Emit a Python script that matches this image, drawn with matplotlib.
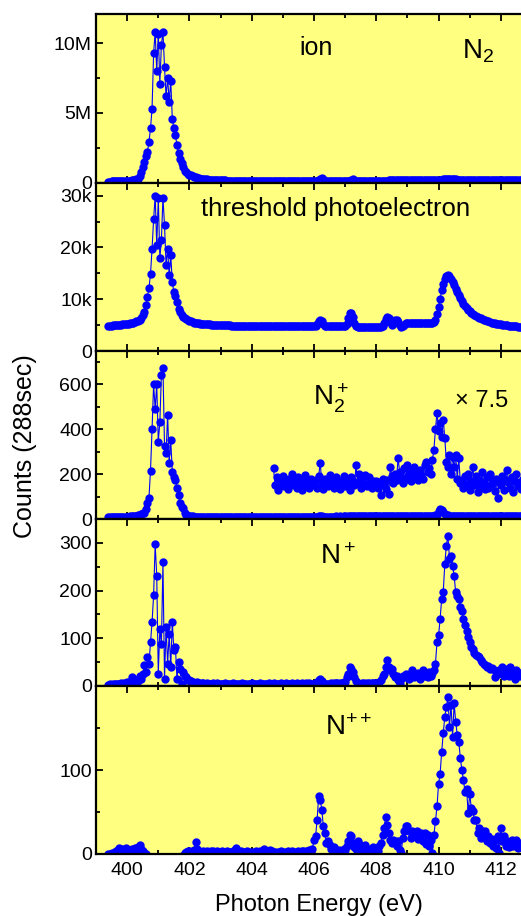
import numpy as np
import matplotlib
matplotlib.use('Agg')
import matplotlib.pyplot as plt
from matplotlib.ticker import MultipleLocator

plt.rcParams['font.family'] = ['Liberation Sans', 'DejaVu Sans']
plt.rcParams['mathtext.fontset'] = 'custom'
plt.rcParams['mathtext.rm'] = 'Liberation Sans'
plt.rcParams['mathtext.it'] = 'Liberation Sans:italic'
plt.rcParams['mathtext.bf'] = 'Liberation Sans:bold'

# photon energy grid (eV), 0.05 eV steps, 399.40 .. 412.70
energy = np.round(np.arange(399.40, 412.701, 0.05), 2)

# ion yield (millions of counts)
ion = [
    0.08, 0.08, 0.09, 0.09, 0.09, 0.10, 0.10, 0.10, 0.11, 0.11, 0.12, 0.12,
    0.13, 0.14, 0.15, 0.16, 0.18, 0.20, 0.24, 0.30, 0.45, 0.80, 1.1, 1.5, 1.9, 2.2, 2.9, 3.9, 5.3, 9.3, 10.8, 8.0,
    10.7, 7.1, 9.9, 10.8, 8.3, 6.2, 7.5, 5.8, 7.3, 4.6, 3.9, 3.4, 2.7, 2.1, 1.7, 1.4, 1.1, 0.85, 0.75, 0.65,
    0.58, 0.52, 0.47, 0.42, 0.38, 0.34, 0.31, 0.29, 0.27, 0.25, 0.24, 0.23, 0.22, 0.21, 0.20, 0.19, 0.19, 0.18, 0.18, 0.17,
    0.17, 0.16, 0.16, 0.16, 0.15, 0.15, 0.15, 0.15, 0.14, 0.14, 0.14, 0.14, 0.14, 0.14, 0.14, 0.13, 0.13, 0.13, 0.13, 0.13,
    0.13, 0.13, 0.13, 0.13, 0.13, 0.13, 0.13, 0.12, 0.12, 0.12, 0.12, 0.12, 0.12, 0.12, 0.12, 0.12, 0.12, 0.12, 0.12, 0.12,
    0.12, 0.12, 0.12, 0.12, 0.12, 0.12, 0.12, 0.12, 0.12, 0.12, 0.12, 0.12, 0.12, 0.12, 0.12, 0.12, 0.12, 0.12, 0.12, 0.12,
    0.12, 0.12, 0.13, 0.18, 0.30, 0.35, 0.25, 0.15, 0.13, 0.12, 0.12, 0.12, 0.13, 0.13, 0.13, 0.13, 0.13, 0.13, 0.13, 0.13,
    0.13, 0.13, 0.14, 0.15, 0.20, 0.24, 0.18, 0.14, 0.13, 0.13, 0.13, 0.14, 0.14, 0.14, 0.14, 0.14, 0.14, 0.14, 0.14, 0.14,
    0.14, 0.14, 0.14, 0.14, 0.15, 0.15, 0.15, 0.15, 0.16, 0.18, 0.22, 0.17, 0.16, 0.18, 0.17, 0.16, 0.16, 0.16, 0.16, 0.16,
    0.16, 0.16, 0.17, 0.17, 0.17, 0.17, 0.17, 0.17, 0.18, 0.18, 0.18, 0.18, 0.18, 0.18, 0.18, 0.18, 0.19, 0.19, 0.19, 0.19,
    0.20, 0.21, 0.22, 0.23, 0.24, 0.25, 0.25, 0.24, 0.24, 0.23, 0.23, 0.23, 0.22, 0.22, 0.22, 0.22, 0.22, 0.22, 0.22, 0.22,
    0.22, 0.22, 0.22, 0.22, 0.22, 0.22, 0.22, 0.22, 0.22, 0.22, 0.22, 0.22, 0.22, 0.22, 0.22, 0.22, 0.22, 0.22, 0.22, 0.22,
    0.22, 0.22, 0.22, 0.22, 0.22, 0.22, 0.22, 0.22, 0.22, 0.22, 0.22, 0.22, 0.22, 0.22, 0.22,
]

# threshold photoelectron (thousands of counts)
tpe = [
    4.8, 4.9, 4.9, 5.0, 5.0, 5.0, 5.1, 5.1, 5.1, 5.2, 5.2, 5.2,
    5.3, 5.3, 5.4, 5.4, 5.5, 5.6, 5.7, 5.8, 6.0, 6.4, 6.9, 7.6, 8.9, 10.5, 12.1, 14.9, 19.7, 25.4, 30.0, 20.4,
    29.5, 17.9, 21.5, 29.6, 24.3, 16.7, 19.7, 14.7, 18.5, 13.4, 11.4, 10.6, 9.5, 8.2, 7.6, 7.0, 6.6, 6.3, 6.1, 5.9,
    5.8, 5.7, 5.6, 5.5, 5.5, 5.4, 5.4, 5.3, 5.3, 5.3, 5.2, 5.2, 5.2, 5.2, 5.1, 5.1, 5.1, 5.1, 5.0, 5.0,
    5.0, 5.0, 5.0, 5.0, 5.0, 5.0, 5.0, 4.9, 4.9, 4.9, 4.9, 4.9, 4.9, 4.9, 4.9, 4.9, 4.9, 4.9, 4.9, 4.9,
    4.9, 4.9, 4.9, 4.9, 4.9, 4.9, 4.9, 4.9, 4.9, 4.9, 4.9, 4.9, 4.8, 4.8, 4.8, 4.8, 4.8, 4.8, 4.8, 4.8,
    4.8, 4.8, 4.8, 4.8, 4.8, 4.8, 4.8, 4.8, 4.8, 4.8, 4.8, 4.8, 4.8, 4.8, 4.8, 4.8, 4.8, 4.8, 4.8, 4.8,
    4.8, 4.9, 5.2, 5.7, 6.0, 5.8, 5.2, 4.9, 4.8, 4.8, 4.8, 4.8, 4.8, 4.8, 4.8, 4.8, 4.8, 4.8, 4.8, 4.8,
    4.8, 5.2, 6.3, 7.3, 7.4, 6.6, 5.4, 4.9, 4.7, 4.7, 4.7, 4.7, 4.6, 4.6, 4.6, 4.6, 4.6, 4.6, 4.6, 4.6,
    4.6, 4.6, 4.6, 4.7, 4.9, 5.4, 6.1, 6.5, 6.3, 5.6, 5.1, 5.3, 5.9, 6.0, 5.6, 5.0, 4.7, 4.8, 5.1, 5.4,
    5.5, 5.5, 5.5, 5.5, 5.5, 5.5, 5.5, 5.5, 5.5, 5.5, 5.5, 5.5, 5.5, 5.5, 5.5, 5.5, 5.5, 5.6, 6.0, 7.2,
    8.5, 10.0, 11.8, 13.0, 14.0, 14.5, 14.7, 14.4, 13.9, 13.4, 12.7, 12.0, 11.3, 10.8, 10.2, 9.6, 9.1, 8.6, 8.3, 8.0,
    7.7, 7.4, 7.2, 7.0, 6.8, 6.6, 6.4, 6.3, 6.1, 6.0, 5.9, 5.8, 5.7, 5.6, 5.5, 5.4, 5.4, 5.3, 5.3, 5.2,
    5.2, 5.1, 5.1, 5.0, 5.0, 4.9, 4.9, 4.9, 4.8, 4.8, 4.8, 4.7, 4.7, 4.7, 4.7,
]

# N2+ ion yield (counts)
n2p = [
    8, 9, 8, 9, 9, 10, 9, 10, 10, 10, 11, 10,
    11, 11, 12, 12, 13, 14, 15, 16, 18, 22, 25, 28, 45, 70, 92, 215, 400, 600, 490, 600,
    345, 430, 642, 672, 323, 293, 464, 251, 350, 211, 189, 174, 137, 107, 70, 55, 48, 25, 20, 15,
    14, 12, 12, 11, 11, 10, 10, 10, 9, 10, 9, 9, 10, 9, 9, 10, 9, 9, 10, 9,
    9, 10, 9, 10, 10, 9, 10, 10, 9, 10, 10, 9, 10, 10, 10, 9, 10, 10, 9, 10,
    10, 10, 9, 10, 10, 10, 10, 9, 10, 10, 10, 10, 10, 9, 10, 10, 10, 10, 10, 10,
    10, 10, 10, 11, 10, 10, 11, 10, 10, 11, 10, 10, 11, 10, 11, 10, 11, 11, 10, 11,
    11, 11, 11, 12, 13, 12, 11, 11, 11, 11, 11, 11, 11, 11, 12, 11, 11, 12, 11, 12,
    12, 11, 12, 12, 12, 12, 12, 12, 12, 12, 12, 13, 12, 12, 12, 13, 12, 12, 13, 12,
    12, 13, 12, 13, 13, 13, 13, 12, 13, 13, 13, 13, 13, 13, 14, 13, 13, 14, 13, 14,
    14, 13, 14, 14, 14, 14, 14, 14, 14, 14, 14, 15, 14, 14, 15, 15, 15, 15, 16, 20,
    35, 45, 40, 30, 22, 18, 16, 15, 15, 15, 15, 15, 14, 15, 15, 14, 15, 14, 15, 14,
    15, 14, 15, 14, 14, 15, 14, 14, 15, 14, 14, 14, 15, 14, 14, 14, 15, 14, 14, 14,
    14, 14, 14, 14, 14, 14, 14, 14, 14, 14, 14, 14, 14, 14, 14,
]

# N2+ magnified x7.5, from 404.70 eV on
n2p_x75 = [
    226, 150, 185, 130, 175, 160,
    190, 145, 170, 135, 180, 165, 200, 150, 175, 140, 185, 160, 130, 175, 195, 150, 165, 140, 180, 160,
    150, 175, 140, 190, 251, 160, 135, 180, 170, 145, 195, 160, 175, 140, 185, 150, 170, 135, 165, 190,
    145, 175, 160, 130, 185, 170, 150, 241, 165, 200, 140, 180, 155, 195, 145, 185, 160, 140, 170, 150,
    170, 140, 165, 107, 180, 150, 135, 175, 112, 233, 190, 160, 200, 175, 271, 210, 185, 160, 225, 180,
    241, 200, 170, 215, 230, 190, 205, 175, 220, 195, 180, 240, 256, 210, 225, 200, 263, 308, 400, 474,
    394, 427, 367, 442, 360, 256, 233, 285, 200, 278, 230, 283, 180, 270, 160, 175, 140, 190, 150, 200,
    130, 170, 233, 150, 190, 120, 175, 145, 210, 160, 135, 185, 140, 200, 155, 170, 125, 180, 92, 165,
    150, 190, 130, 175, 220, 160, 140, 185, 120, 170, 200, 145, 165, 135, 180,
]

# N+ ion yield (counts)
n_p = [
    3, 4, 3, 4, 5, 4, 5, 5, 6, 5, 6, 7,
    8, 7, 8, 19, 10, 12, 12, 10, 20, 14, 25, 43, 30, 61, 47, 92, 134, 190, 297, 231,
    26, 120, 88, 259, 15, 123, 47, 109, 40, 134, 75, 82, 15, 50, 36, 5, 29, 20, 19, 12,
    12, 10, 8, 6, 5, 8, 6, 5, 7, 6, 5, 6, 5, 4, 5, 6, 5, 5, 6, 5,
    5, 4, 5, 6, 5, 5, 4, 5, 6, 5, 5, 5, 4, 5, 6, 5, 5, 4, 5, 5,
    6, 5, 5, 4, 5, 6, 5, 5, 5, 4, 5, 6, 5, 5, 6, 5, 4, 5, 5, 6,
    5, 5, 6, 5, 4, 5, 6, 5, 5, 6, 5, 5, 6, 5, 5, 6, 5, 6, 5, 5,
    5, 6, 8, 12, 15, 10, 7, 5, 4, 5, 5, 6, 5, 6, 7, 6, 5, 6, 7, 8,
    9, 18, 26, 40, 36, 30, 19, 10, 5, 4, 5, 6, 6, 5, 6, 6, 5, 6, 7, 6,
    6, 7, 9, 12, 20, 26, 40, 54, 40, 33, 36, 25, 19, 20, 12, 5, 14, 22, 18, 25,
    20, 15, 22, 33, 18, 25, 20, 28, 15, 22, 33, 20, 25, 18, 30, 22, 28, 33, 47, 92,
    106, 141, 183, 197, 256, 294, 315, 266, 272, 252, 230, 197, 188, 183, 165, 158, 140, 127, 115, 102,
    92, 82, 78, 70, 64, 62, 61, 55, 50, 47, 45, 40, 42, 35, 38, 36, 19, 30, 25, 33,
    28, 40, 22, 30, 35, 20, 40, 25, 30, 15, 33, 22, 28, 20, 25,
]

# N++ ion yield (counts)
n_pp = [
    0, 0, 1, 0, 2, 3, 5, 7, 5, 6, 4, 7,
    5, 3, 4, 6, 5, 7, 6, 8, 11, 6, 3, 1, 0, -3, -5, -6, -8, -5, -7, -9,
    -6, -8, -10, -7, -9, -6, -8, -5, -7, -6, -4, -6, -5, -3, -4, -2, -3, 1, 2, 3,
    3, 2, 4, 5, 14, 6, 3, 1, 2, 4, 2, 3, 1, 2, 4, 3, 2, 1, 3, 2,
    2, 3, 1, 2, 3, 2, 1, 2, 3, 5, 7, 4, 2, 3, 2, 1, 2, 3, 2, 1,
    2, 1, 2, 3, 2, 3, 2, 1, 6, 4, 2, 3, 5, 3, 2, 1, 2, 1, 2, 3,
    2, 1, 2, 3, 2, 1, 3, 2, 1, 2, 3, 2, 4, 3, 2, 3, 4, 5, 4, 6,
    17, 21, 41, 69, 65, 53, 33, 25, 13, 15, 11, 6, 5, 8, 5, 3, 5, 2, 4, 6,
    5, 9, 15, 23, 21, 13, 8, 6, 15, 12, 9, 5, 9, 11, 4, 2, 6, 5, 8, 5,
    5, 3, 9, 13, 23, 31, 44, 35, 25, 17, 13, 17, 15, 9, 15, 5, 1, 19, 27, 33,
    33, 27, 19, 27, 24, 21, 27, 18, 21, 25, 16, 25, 12, 23, 9, 17, 1, 23, 39, 57,
    84, 96, 122, 144, 164, 176, 187, 152, 178, 140, 180, 158, 142, 134, 114, 100, 88, 74, 78, 49,
    72, 55, 51, 41, 41, 25, 31, 19, 27, 22, 27, 15, 21, 13, 18, 9, 17, 7, 21, 1,
    31, 15, 22, 10, 15, 8, 12, 17, 9, 14, 17, 7, 11, 13, 10,
]

panels = [
    (np.array(ion) * 1e6, 12.1e6, [0, 5e6, 10e6], ['0', '5M', '10M'], 2.5e6),
    (np.array(tpe) * 1e3, 32.5e3, [0, 10e3, 20e3, 30e3], ['0', '10k', '20k', '30k'], 5e3),
    (np.array(n2p), 748, [0, 200, 400, 600], ['0', '200', '400', '600'], 100),
    (np.array(n_p), 350, [0, 100, 200, 300], ['0', '100', '200', '300'], 50),
    (np.array(n_pp), 200.5, [0, 100], ['0', '100'], 50),
]

W, H = 521, 916
fig = plt.figure(figsize=(W / 100, H / 100), dpi=100)
edges = [14, 182.7, 351, 519, 686, 854]
left_px, right_px = 96, 532
xlim = (399.0, 413.0)
bg = '#ffff80'
blue = '#0000ff'

axes = []
for i, (ys, ytop, yt, ytl, ymin) in enumerate(panels):
    top, bot = edges[i], edges[i + 1]
    ax = fig.add_axes([left_px / W, 1 - bot / H, (right_px - left_px) / W, (bot - top) / H])
    ax.set_facecolor(bg)
    ax.plot(energy, ys, '-o', color=blue, lw=0.8, ms=5, mec=blue, mfc=blue)
    if i == 2:
        ax.plot(energy[energy >= 404.69], n2p_x75, '-o', color=blue, lw=0.8, ms=5)
    ax.set_xlim(*xlim)
    ax.set_ylim(0, ytop)
    ax.set_yticks(yt)
    ax.set_yticklabels(ytl)
    ax.yaxis.set_minor_locator(MultipleLocator(ymin))
    ax.xaxis.set_major_locator(MultipleLocator(2))
    ax.xaxis.set_minor_locator(MultipleLocator(1))
    ax.tick_params(which='both', direction='in', top=True, right=True, width=1.3)
    ax.tick_params(which='major', length=5, labelsize=14, pad=3)
    ax.tick_params(which='minor', length=3)
    for s in ax.spines.values():
        s.set_linewidth(1.6)
    if i < 4:
        ax.tick_params(labelbottom=False)
    axes.append(ax)

axes[-1].set_xticks([400, 402, 404, 406, 408, 410, 412])
axes[-1].tick_params(axis='x', pad=6)

kw = dict(ha='center', va='center')
axes[0].text(0.505, 0.80, 'ion', transform=axes[0].transAxes, fontsize=18, **kw)
axes[0].text(0.876, 0.78, r'$\mathregular{N_2}$', transform=axes[0].transAxes, fontsize=20, **kw)
axes[1].text(0.55, 0.845, 'threshold photoelectron', transform=axes[1].transAxes, fontsize=18.5, **kw)
axes[2].text(0.54, 0.72, r'$\mathregular{N_2^+}$', transform=axes[2].transAxes, fontsize=20, **kw)
axes[2].text(0.885, 0.70, '× 7.5', transform=axes[2].transAxes, fontsize=17, **kw)
axes[3].text(0.555, 0.77, r'$\mathregular{N^+}$', transform=axes[3].transAxes, fontsize=20, **kw)
axes[4].text(0.58, 0.75, r'$\mathregular{N^{++}}$', transform=axes[4].transAxes, fontsize=20, **kw)

fig.text(25 / W, 1 - 446 / H, 'Counts (288sec)', rotation=90, fontsize=18, **kw)
fig.text(319 / W, 1 - 905 / H, 'Photon Energy (eV)', fontsize=17, **kw)

fig.savefig('out.png', dpi=100)
